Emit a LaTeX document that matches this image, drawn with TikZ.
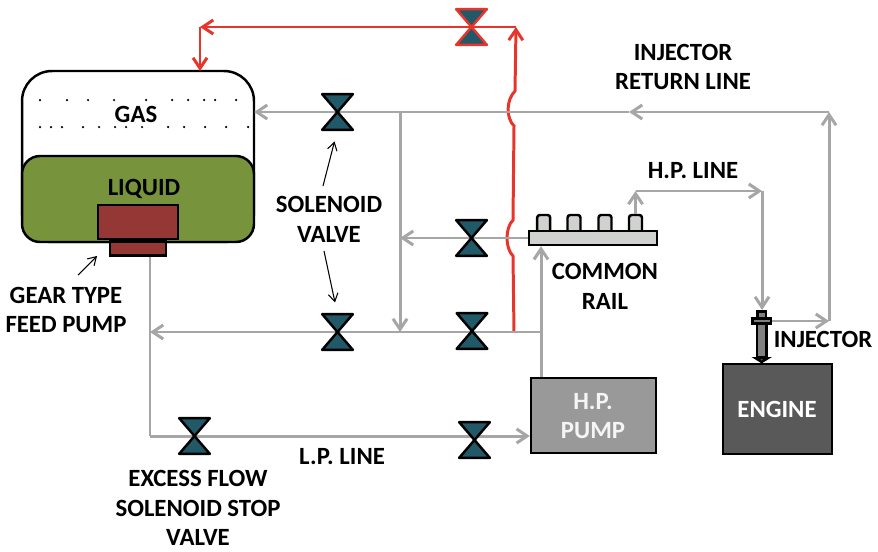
\documentclass[tikz,border=0pt]{standalone}
\usepackage{fontspec}
\setmainfont{Carlito}
\usetikzlibrary{positioning,arrows.meta}

\definecolor{pipegray}{HTML}{A6A6A6}
\definecolor{redline}{HTML}{E8352B}
\definecolor{valveteal}{HTML}{215968}
\definecolor{liquidgreen}{HTML}{77933C}
\definecolor{pumpred}{HTML}{953735}
\definecolor{railgray}{HTML}{D0D2D0}
\definecolor{hpgray}{HTML}{999999}
\definecolor{enginegray}{HTML}{595959}

\begin{document}
\begin{tikzpicture}[
x=0.02cm,
y=-0.02cm,
lbl/.style={
inner sep=0pt,
align=center,
font=\fontsize{14.1}{17}\selectfont\bfseries
},
block/.style={
draw=black,
line width=1.4pt,
inner sep=0pt
},
valvebox/.style={
minimum width=0.6cm,
minimum height=0.7cm,
inner sep=0pt
},
valveshape/.style={
fill=valveteal,
draw=black,
line width=1.4pt,
line join=round
},
pipe/.style={
draw=pipegray,
line width=1.7pt,
>={Straight Barb[length=6pt,width=8pt]}
},
redpipe/.style={
draw=redline,
line width=1.7pt,
>={Straight Barb[length=6pt,width=8pt]}
},
note/.style={
draw=black,
line width=0.6pt,
>={Straight Barb[length=4.5pt,width=5.5pt]},
shorten >=6.8pt
}
]

\useasboundingbox (0,0) rectangle (878,551);

% Tank
\node (tank) [block,rounded corners=0.6cm,fill=white,minimum width=4.64cm,minimum height=3.42cm] at (138,156.5) {};
\node (liquid) [block,rounded corners=0.36cm,fill=liquidgreen,minimum width=4.64cm,minimum height=1.72cm] at (138,199) {};
\node (pump) [block,fill=pumpred,minimum width=1.6cm,minimum height=0.68cm] at (138,222) {};
\node (pumpbase) [block,fill=pumpred,minimum width=1.12cm,minimum height=0.28cm,below=0pt of pump] {};

\foreach \px in {40,67,88,114,146,172,188,204,215,236}
  \fill (\px,100) circle (0.025cm);
\foreach \px in {40,51,62,83,99,115,126,142,168,184,205,226,248}
  \fill (\px,127) circle (0.025cm);

\node (gas) [lbl] at (136,114) {GAS};
\node (liquidtext) [lbl] at (144,189) {LIQUID};

% Valves
\node (valveTop) [valvebox] at (471.5,27) {};
\node (valveGas) [valvebox] at (337.5,112) {};
\node (valveRail) [valvebox] at (471.5,238) {};
\node (valveLow) [valvebox] at (337.5,332) {};
\node (valvePump) [valvebox] at (472,331) {};
\node (valveExcess) [valvebox] at (194.5,436) {};
\node (valveLP) [valvebox] at (474.5,440) {};

% Rail and stubs
\node (stubA) [block,rounded corners=1.5pt,fill=railgray,minimum width=0.26cm,minimum height=0.36cm] at (543.7,224) {};
\node (stubB) [block,rounded corners=1.5pt,fill=railgray,minimum width=0.26cm,minimum height=0.36cm] at (574,224) {};
\node (stubC) [block,rounded corners=1.5pt,fill=railgray,minimum width=0.26cm,minimum height=0.36cm] at (605,224) {};
\node (stubD) [block,rounded corners=1.5pt,fill=railgray,minimum width=0.26cm,minimum height=0.36cm] at (635.5,224) {};
\node (rail) [block,fill=railgray,minimum width=2.56cm,minimum height=0.28cm] at (593,238) {};

% Pump and engine
\node (hppump) [block,fill=hpgray,minimum width=2.5cm,minimum height=1.5cm] at (593.5,415.5) {};
\node (engine) [block,fill=enginegray,minimum width=2.18cm,minimum height=1.8cm] at (777.5,409) {};
\node [lbl,text=white!96!black] at (593,416) {H.P.\\PUMP};
\node [lbl,text=white] at (777,409) {ENGINE};

% Injector
\node (injbody) [block,fill=gray,minimum width=0.19cm,minimum height=0.68cm] at (761.7,340) {};
\node (injcap) [block,fill=gray,minimum width=0.17cm,minimum height=0.14cm] at (761.7,315) {};
\node (injflange) [block,fill=gray,minimum width=0.37cm,minimum height=0.1cm] at (761.7,321) {};
\node (injtip) [inner sep=0pt,minimum size=0pt] at (761.7,362) {};
\draw[block,fill=gray] (injbody.south west) -- (injtip.center) -- (injbody.south east) -- cycle;

% Junctions
\coordinate (redbot) at (514,332);
\coordinate (bumpAlow) at (513,256);
\coordinate (bumpAup) at (513,220);
\coordinate (bumpBlow) at (514,126);
\coordinate (bumpBup) at (515,91);
\coordinate (redtop) at (516,27);
\coordinate (redleft) at (200,27);
\coordinate (redtank) at (200,71);
\coordinate (retcorner) at (829,112);
\coordinate (retmid) at (629,112);
\coordinate (retgas) at (254,112);
\coordinate (teeTop) at (400,112);
\coordinate (teeMid) at (400,238);
\coordinate (teeLow) at (400,332);
\coordinate (riser) at (541,332);
\coordinate (lowleft) at (150,332);
\coordinate (lpleft) at (150,436);
\coordinate (hpleft) at (635.5,191);
\coordinate (hpright) at (762,191);
\coordinate (injin) at (762,310);
\coordinate (injout) at (829,321);

% Red line
\draw[redpipe,->] (redbot) -- (bumpAlow)
.. controls (505,248) and (505,228) .. (bumpAup)
-- (bumpBlow)
.. controls (506,118) and (506,100) .. (bumpBup)
-- (redtop);
\draw[redpipe,->] (redtop) -- (valveTop.center) -- (redleft);
\draw[redpipe,->] (redleft) -- (redtank);

% Return line
\draw[pipe,->] (injflange.east) -- (injout);
\draw[pipe,->] (injout) -- (retcorner);
\draw[pipe,->] (retcorner) -- (retmid);
\draw[pipe,->] (retmid) -- (retgas);
\draw[pipe,->] (teeTop) -- (teeLow);
\draw[pipe,->] (rail.west) -- (valveRail.center) -- (teeMid);

% Low pressure side
\draw[pipe,->] (riser) -- (lowleft);
\draw[pipe] (pumpbase.south -| lowleft) -- (lpleft);
\draw[pipe,->] (lpleft) -- (hppump.west |- lpleft);
\draw[pipe,->] (hppump.north -| riser) -- (rail.south -| riser);

% High pressure side
\draw[pipe,->] (stubD.north) -- (hpleft);
\draw[pipe,->] (hpleft) -- (hpright);
\draw[pipe,->] (hpright) -- (injin);

% Valve bodies
\foreach \v in {valveGas,valveRail,valveLow,valvePump,valveExcess,valveLP}
  \draw[valveshape] (\v.north west) -- (\v.north east) -- (\v.south west) -- (\v.south east) -- cycle;
\draw[valveshape,draw=redline] (valveTop.north west) -- (valveTop.north east) -- (valveTop.south west) -- (valveTop.south east) -- cycle;

% Labels
\node (solenoid) [lbl] at (329,219) {SOLENOID\\VALVE};
\node (gear) [lbl] at (66,310) {GEAR TYPE\\FEED PUMP};
\node (excess) [lbl] at (198,508) {EXCESS FLOW\\SOLENOID STOP\\VALVE};
\node (lpline) [lbl] at (342,457) {L.P. LINE};
\node (returnline) [lbl] at (683,67) {INJECTOR\\RETURN LINE};
\node (hpline) [lbl] at (693,171) {H.P. LINE};
\node (common) [lbl] at (605,286) {COMMON\\RAIL};
\node (injector) [lbl] at (823,339) {INJECTOR};

\coordinate (noteup) at (323,186);
\coordinate (notedown) at (324,251);
\coordinate (gearstart) at (78,275);
\coordinate (geartip) at (97,256);

\draw[note,->] (noteup) -- (valveGas.south);
\draw[note,->] (notedown) -- (valveLow.north);
\draw[note,->,shorten >=0pt] (gearstart) -- (geartip);

\end{tikzpicture}
\end{document}
